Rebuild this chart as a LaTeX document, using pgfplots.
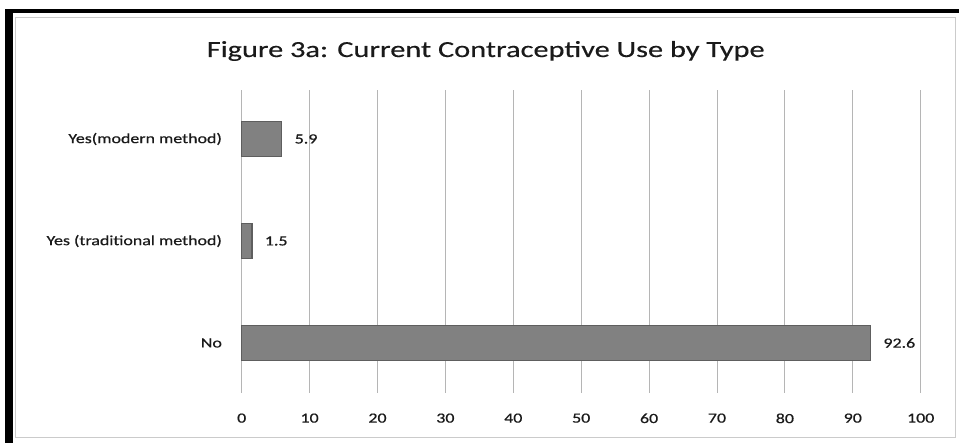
\documentclass[border=0pt]{standalone}
\usepackage{pgfplots}
\pgfplotsset{compat=1.18}
\usepackage{fontspec}
\setmainfont{Carlito}[FakeStretch=1.28,FakeBold=0.6]
\newfontfamily\titlefont{Carlito}[FakeStretch=1.32,FakeBold=0.3]
\definecolor{barfill}{HTML}{818181}
\definecolor{barline}{HTML}{5E5E5E}
\definecolor{gridc}{HTML}{B5B5B5}
\definecolor{txt}{HTML}{1A1A1A}
\begin{document}
\begin{tikzpicture}[x=1pt,y=1pt]
\useasboundingbox (-241.7,-50) rectangle (717.3,393);
\fill[white] (-241.7,-50) rectangle (717.3,393);
% frame
\fill[black] (-236.7,380) rectangle (717.3,384);
\fill[black] (-236.7,-50) rectangle (-228.7,384);
\draw[gridc!70, line width=1pt] (-225.7,-45) rectangle (713.3,375);
\begin{axis}[
  at={(0pt,0pt)}, anchor=south west,
  scale only axis,
  width=679pt, height=303pt,
  xbar, bar width=35pt,
  xmin=0, xmax=100,
  ymin=-0.49, ymax=2.48,
  xtick={0,10,...,100},
  ytick={0,1,2},
  yticklabels={No, Yes (traditional method), Yes(modern method)},
  xmajorgrids,
  major grid style={gridc, line width=1pt},
  axis line style={draw=none},
  tick style={draw=none},
  /pgf/number format/assume math mode=true,
  xticklabel style={font=\fontsize{14}{16}\selectfont, text=txt, yshift=-17pt},
  yticklabel style={font=\fontsize{14}{16}\selectfont, text=txt, xshift=-12pt},
  nodes near coords,
  nodes near coords style={font=\fontsize{14}{16}\selectfont, text=txt, anchor=west, xshift=9pt},
  point meta=explicit symbolic,
  clip=false,
]
\addplot[fill=barfill, draw=barline, line width=1.3pt] coordinates {
  (92.6,0) [92.6]
  (1.5,1) [1.5]
  (5.9,2) [5.9]
};
\end{axis}
\node[text=txt, font=\titlefont\fontsize{23}{27}\selectfont] at (244,342) {Figure 3a: Current Contraceptive Use by Type};
\end{tikzpicture}
\end{document}
